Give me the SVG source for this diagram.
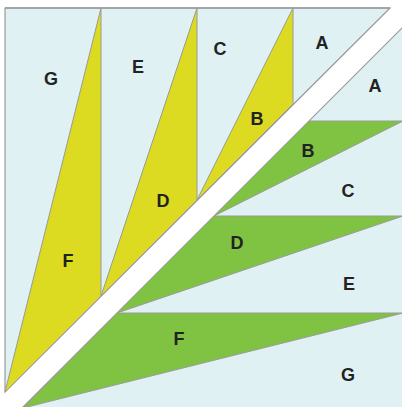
<svg xmlns="http://www.w3.org/2000/svg" width="402" height="407" viewBox="0 0 402 407">
<style>
.bg{fill:#dff1f3;stroke:#9a9a9a;stroke-width:1.2}
.y{fill:#dcdb22;stroke:#9a9a9a;stroke-width:1}
.g{fill:#80c241;stroke:#9a9a9a;stroke-width:1}
.ln{stroke:#9a9a9a;stroke-width:1.5;fill:none}
text{font-family:"Liberation Sans",Arial,sans-serif;font-weight:bold;font-size:18px;fill:#222;text-anchor:middle}
</style>
<rect width="402" height="407" fill="#fff"/>
<g id="upper">
<polygon class="bg" points="5,8 390,8 5,392"/>
<polygon class="y" points="101,8 101,296 5,392"/>
<polygon class="y" points="197,8 197,200 101,296"/>
<polygon class="y" points="293,8 293,104 197,200"/>
<line class="ln" x1="5" y1="8" x2="390" y2="8"/>
</g>
<g id="lower">
<polygon class="bg" points="403,27 403,408 22,408"/>
<polygon class="g" points="309,121 403,121 214,216"/>
<polygon class="g" points="214,216 403,216 117,313"/>
<polygon class="g" points="117,313 403,313 23,408"/>
</g>
<g id="labels">
<text x="51" y="84.5">G</text>
<text x="138" y="72.5">E</text>
<text x="220" y="54.5">C</text>
<text x="322" y="48.5">A</text>
<text x="257" y="124.5">B</text>
<text x="163" y="206.5">D</text>
<text x="68" y="266.5">F</text>
<text x="375" y="91.5">A</text>
<text x="308" y="156.5">B</text>
<text x="348" y="196.5">C</text>
<text x="237" y="248.5">D</text>
<text x="349" y="289.5">E</text>
<text x="179" y="344.5">F</text>
<text x="348" y="380.5">G</text>
</g>
</svg>
